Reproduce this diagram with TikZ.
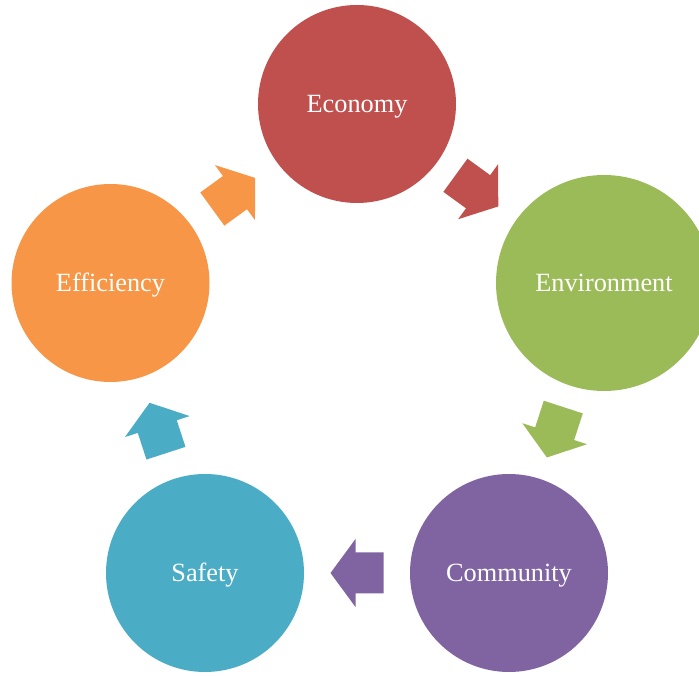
\documentclass[tikz,border=0pt]{standalone}
\usepackage{fontspec}
\setmainfont{Liberation Serif}
\usepackage{tikz}
\usetikzlibrary{calc}
\definecolor{ecored}{HTML}{C0504D}
\definecolor{envgreen}{HTML}{9BBB59}
\definecolor{compurple}{HTML}{8064A2}
\definecolor{safblue}{HTML}{4BACC6}
\definecolor{efforange}{HTML}{F79646}
\tikzset{stage/.style={circle, fill=#1, minimum size=198pt, inner sep=0pt, text=white, text height=17pt, text depth=0pt, font=\fontsize{26.3}{30}\selectfont}}
\tikzset{blockarrow/.pic={\fill[#1] (-26.5,-20.5) -- (1.5,-20.5) -- (1.5,-34) -- (26.5,0) -- (1.5,34) -- (1.5,20.5) -- (-26.5,20.5) -- cycle;}}

\begin{document}
\begin{tikzpicture}[x=1pt,y=1pt]
\useasboundingbox (0,0) rectangle (699,675);
\clip (0,0) rectangle (699,675);
\node[stage=ecored] (eco) at (357,571) {Economy};
\node[stage=envgreen, minimum size=216pt] (env) at (604,392) {Environment};
\node[stage=compurple] (com) at (509,102) {Community};
\node[stage=safblue] (saf) at (205,102) {Safety};
\node[stage=efforange] (eff) at (110.5,392) {Efficiency};
% block arrows halfway between the circle borders
\foreach \a/\b/\ang/\col in {eco/env/-36/ecored, env/com/-108/envgreen, com/saf/180/compurple, saf/eff/108/safblue, eff/eco/36/efforange}{
  \pgfmathtruncatemacro\back{\ang+180}
  \coordinate (m) at ($(\a.\ang)!0.5!(\b.\back)$);
  \pic[rotate=\ang] at (m) {blockarrow=\col};
}
\end{tikzpicture}
\end{document}
